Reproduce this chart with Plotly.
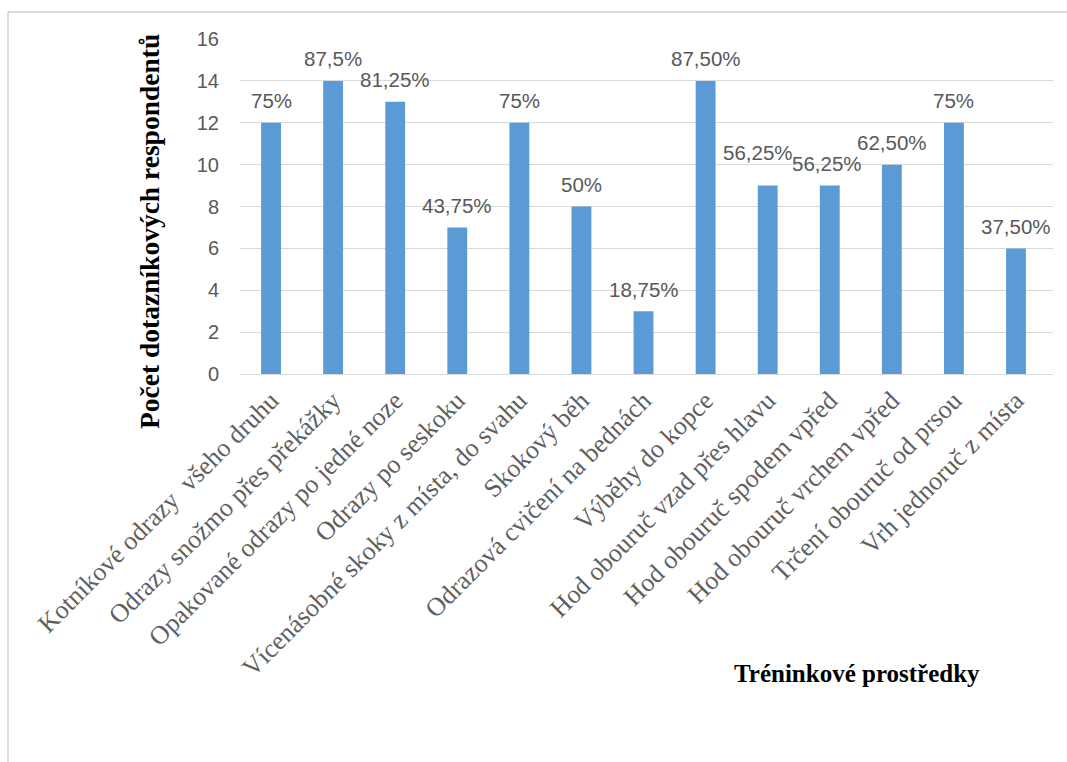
import plotly.graph_objects as go

# Training means and number of respondents who use them
categories = [
    "Kotníkové odrazy  všeho druhu",
    "Odrazy snožmo přes překážky",
    "Opakované odrazy po jedné noze",
    "Odrazy po seskoku",
    "Vícenásobné skoky z místa, do svahu",
    "Skokový běh",
    "Odrazová cvičení na bednách",
    "Výběhy do kopce",
    "Hod obouruč vzad přes hlavu",
    "Hod obouruč spodem vpřed",
    "Hod obouruč vrchem vpřed",
    "Trčení obouruč od prsou",
    "Vrh jednoruč z místa",
]
respondents = [12, 14, 13, 7, 12, 8, 3, 14, 9, 9, 10, 12, 6]
percent_labels = [
    "75%", "87,5%", "81,25%", "43,75%", "75%", "50%", "18,75%",
    "87,50%", "56,25%", "56,25%", "62,50%", "75%", "37,50%",
]
y_ticks = [0, 2, 4, 6, 8, 10, 12, 14, 16]

BAR = "#5B9BD5"
GRID = "#D9D9D9"
TEXT_GREY = "#595959"
SANS = "Liberation Sans, Arial, sans-serif"
SERIF = "Liberation Serif, Times New Roman, serif"

# figure geometry (pixels)
W, H = 1067, 762
L, R, T, B = 240, 14, 39, 388
PW, PH = W - L - R, H - T - B


def px_x(p):
    return (p - L) / PW


def px_y(p):
    return (H - B - p) / PH


fig = go.Figure(
    go.Bar(
        x=categories,
        y=respondents,
        marker=dict(color=BAR, line=dict(width=0)),
        width=0.32,
        hoverinfo="x+y",
    )
)

# percentage labels above the bars; a couple are nudged apart
label_nudge = {8: (-10, 11), 9: (-3, 0)}
for i, (cat, val, lab) in enumerate(zip(categories, respondents, percent_labels)):
    dx, dy = label_nudge.get(i, (0, 0))
    fig.add_annotation(
        x=cat, y=val, text=lab, showarrow=False,
        xanchor="center", yanchor="middle",
        xshift=dx, yshift=22 + dy,
        font=dict(family=SANS, size=20.5, color=TEXT_GREY),
    )

# axis titles
fig.add_annotation(
    xref="paper", yref="paper", x=px_x(149), y=px_y(232),
    text="<b>Počet dotazníkových respondentů</b>", showarrow=False,
    textangle=-90, xanchor="center", yanchor="middle",
    font=dict(family=SERIF, size=27.5, color="#000000"),
)
fig.add_annotation(
    xref="paper", yref="paper", x=px_x(857), y=px_y(673),
    text="<b>Tréninkové prostředky</b>", showarrow=False,
    xanchor="center", yanchor="middle",
    font=dict(family=SERIF, size=25, color="#000000"),
)

# chart frame (top and left edges)
frame = dict(color="#D0D0D0", width=1.5)
fig.add_shape(type="line", xref="paper", yref="paper",
              x0=px_x(8), x1=px_x(W + 5), y0=px_y(12), y1=px_y(12), line=frame)
fig.add_shape(type="line", xref="paper", yref="paper",
              x0=px_x(8), x1=px_x(8), y0=px_y(12), y1=px_y(H + 5), line=frame)

fig.update_layout(
    width=W, height=H,
    margin=dict(l=L, r=R, t=T, b=B, autoexpand=False),
    paper_bgcolor="white", plot_bgcolor="white",
    showlegend=False,
    bargap=0.68,
    xaxis=dict(
        type="category",
        tickangle=-45,
        tickfont=dict(family=SERIF, size=26, color="#5f5f5f"),
        showgrid=False, showline=True, linecolor=GRID, linewidth=1,
        ticks="", automargin=False,
    ),
    yaxis=dict(
        range=[0, 16],
        tickvals=y_ticks,
        ticktext=[str(v) for v in y_ticks],
        tickfont=dict(family=SANS, size=20, color=TEXT_GREY),
        showgrid=True, gridcolor=GRID, gridwidth=1,
        zeroline=False, showline=False, ticks="",
        ticklabelstandoff=20,
        automargin=False,
    ),
)

fig.write_html("out.html")
